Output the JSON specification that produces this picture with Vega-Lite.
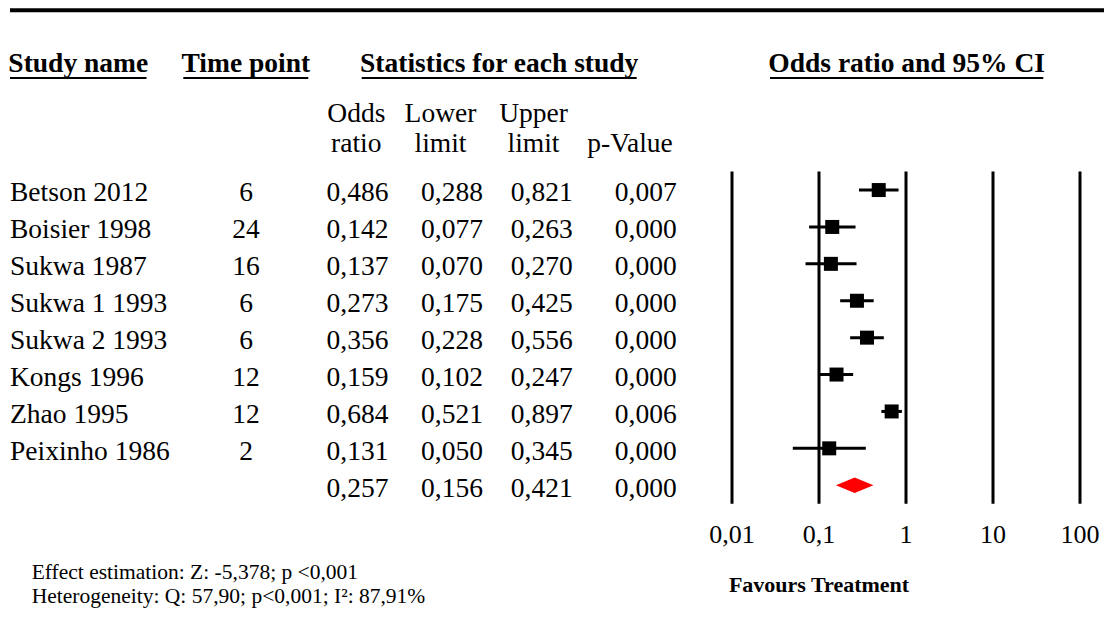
{
  "$schema": "https://vega.github.io/schema/vega-lite/v6.json",
  "width": 1104,
  "height": 631,
  "autosize": {"type": "fit", "contains": "padding"},
  "padding": 0,
  "background": "white",
  "config": {
    "view": {"stroke": null},
    "font": "Liberation Serif",
    "text": {"font": "Liberation Serif", "fontSize": 27.5, "color": "black", "baseline": "alphabetic"},
    "locale": {"number": {"decimal": ",", "thousands": ".", "grouping": [3], "currency": ["", " €"]}}
  },
  "datasets": {
    "studies": [
      {"study": "Betson 2012", "kind": "study", "tp": 6, "or": 0.486, "lo": 0.288, "hi": 0.821, "p": 0.007},
      {"study": "Boisier 1998", "kind": "study", "tp": 24, "or": 0.142, "lo": 0.077, "hi": 0.263, "p": 0.000},
      {"study": "Sukwa 1987", "kind": "study", "tp": 16, "or": 0.137, "lo": 0.070, "hi": 0.270, "p": 0.000},
      {"study": "Sukwa 1 1993", "kind": "study", "tp": 6, "or": 0.273, "lo": 0.175, "hi": 0.425, "p": 0.000},
      {"study": "Sukwa 2 1993", "kind": "study", "tp": 6, "or": 0.356, "lo": 0.228, "hi": 0.556, "p": 0.000},
      {"study": "Kongs 1996", "kind": "study", "tp": 12, "or": 0.159, "lo": 0.102, "hi": 0.247, "p": 0.000},
      {"study": "Zhao 1995", "kind": "study", "tp": 12, "or": 0.684, "lo": 0.521, "hi": 0.897, "p": 0.006},
      {"study": "Peixinho 1986", "kind": "study", "tp": 2, "or": 0.131, "lo": 0.050, "hi": 0.345, "p": 0.000},
      {"study": "Summary", "kind": "summary", "tp": null, "or": 0.257, "lo": 0.156, "hi": 0.421, "p": 0.000}
    ],
    "ticks": [{"value": 0.01}, {"value": 0.1}, {"value": 1}, {"value": 10}, {"value": 100}]
  },
  "resolve": {"scale": {"x": "independent", "y": "independent"}},
  "layer": [
    {
      "data": {"values": [{}]},
      "mark": {"type": "rule", "color": "black", "strokeWidth": 4},
      "encoding": {
        "x": {"datum": 0, "type": "quantitative", "scale": {"domain": [0, 1], "range": [10, 1104], "nice": false, "zero": false}, "axis": null},
        "x2": {"datum": 1},
        "y": {"datum": 0, "type": "quantitative", "scale": {"domain": [0, 1], "range": [10.3, 20], "nice": false, "zero": false}, "axis": null}
      }
    },
    {
      "data": {"values": [{}]},
      "encoding": {
        "x": {"datum": 0.5, "type": "quantitative", "scale": {"domain": [0, 1], "range": [10, 146.5], "nice": false, "zero": false}, "axis": null},
        "y": {"datum": 0, "type": "quantitative", "scale": {"domain": [0, 1], "range": [72, 78], "nice": false, "zero": false}, "axis": null}
      },
      "layer": [
        {"mark": {"type": "text", "fontWeight": "bold", "align": "center"}, "encoding": {"text": {"value": "Study name"}}},
        {"mark": {"type": "rule", "color": "black", "strokeWidth": 2}, "encoding": {"x": {"datum": 0, "type": "quantitative"}, "x2": {"datum": 1}, "y": {"datum": 1, "type": "quantitative"}}}
      ]
    },
    {
      "data": {"values": [{}]},
      "encoding": {
        "x": {"datum": 0.5, "type": "quantitative", "scale": {"domain": [0, 1], "range": [183.3, 308.3], "nice": false, "zero": false}, "axis": null},
        "y": {"datum": 0, "type": "quantitative", "scale": {"domain": [0, 1], "range": [72, 78], "nice": false, "zero": false}, "axis": null}
      },
      "layer": [
        {"mark": {"type": "text", "fontWeight": "bold", "align": "center"}, "encoding": {"text": {"value": "Time point"}}},
        {"mark": {"type": "rule", "color": "black", "strokeWidth": 2}, "encoding": {"x": {"datum": 0, "type": "quantitative"}, "x2": {"datum": 1}, "y": {"datum": 1, "type": "quantitative"}}}
      ]
    },
    {
      "data": {"values": [{}]},
      "encoding": {
        "x": {"datum": 0.5, "type": "quantitative", "scale": {"domain": [0, 1], "range": [361.7, 636.7], "nice": false, "zero": false}, "axis": null},
        "y": {"datum": 0, "type": "quantitative", "scale": {"domain": [0, 1], "range": [72, 78], "nice": false, "zero": false}, "axis": null}
      },
      "layer": [
        {"mark": {"type": "text", "fontWeight": "bold", "align": "center"}, "encoding": {"text": {"value": "Statistics for each study"}}},
        {"mark": {"type": "rule", "color": "black", "strokeWidth": 2}, "encoding": {"x": {"datum": 0, "type": "quantitative"}, "x2": {"datum": 1}, "y": {"datum": 1, "type": "quantitative"}}}
      ]
    },
    {
      "data": {"values": [{}]},
      "encoding": {
        "x": {"datum": 0.5, "type": "quantitative", "scale": {"domain": [0, 1], "range": [770, 1043.3], "nice": false, "zero": false}, "axis": null},
        "y": {"datum": 0, "type": "quantitative", "scale": {"domain": [0, 1], "range": [72, 78], "nice": false, "zero": false}, "axis": null}
      },
      "layer": [
        {"mark": {"type": "text", "fontWeight": "bold", "align": "center"}, "encoding": {"text": {"value": "Odds ratio and 95% CI"}}},
        {"mark": {"type": "rule", "color": "black", "strokeWidth": 2}, "encoding": {"x": {"datum": 0, "type": "quantitative"}, "x2": {"datum": 1}, "y": {"datum": 1, "type": "quantitative"}}}
      ]
    },
    {
      "data": {"values": [{}]},
      "mark": {"type": "text", "align": "center", "lineHeight": 30},
      "encoding": {
        "x": {"datum": "Odds ratio", "type": "nominal", "scale": {"type": "point", "domain": ["Odds ratio"], "range": [356.3, 356.3]}, "axis": null},
        "y": {"datum": "line 1", "type": "nominal", "scale": {"type": "point", "domain": ["line 1"], "range": [121.7, 121.7]}, "axis": null},
        "text": {"value": ["Odds", "ratio"]}
      }
    },
    {
      "data": {"values": [{}]},
      "mark": {"type": "text", "align": "center", "lineHeight": 30},
      "encoding": {
        "x": {"datum": "Lower limit", "type": "nominal", "scale": {"type": "point", "domain": ["Lower limit"], "range": [440.5, 440.5]}, "axis": null},
        "y": {"datum": "line 1", "type": "nominal", "scale": {"type": "point", "domain": ["line 1"], "range": [121.7, 121.7]}, "axis": null},
        "text": {"value": ["Lower", "limit"]}
      }
    },
    {
      "data": {"values": [{}]},
      "mark": {"type": "text", "align": "center", "lineHeight": 30},
      "encoding": {
        "x": {"datum": "Upper limit", "type": "nominal", "scale": {"type": "point", "domain": ["Upper limit"], "range": [533.5, 533.5]}, "axis": null},
        "y": {"datum": "line 1", "type": "nominal", "scale": {"type": "point", "domain": ["line 1"], "range": [121.7, 121.7]}, "axis": null},
        "text": {"value": ["Upper", "limit"]}
      }
    },
    {
      "data": {"values": [{}]},
      "mark": {"type": "text", "align": "center"},
      "encoding": {
        "x": {"datum": "p-Value", "type": "nominal", "scale": {"type": "point", "domain": ["p-Value"], "range": [630, 630]}, "axis": null},
        "y": {"datum": "line 2", "type": "nominal", "scale": {"type": "point", "domain": ["line 2"], "range": [151.7, 151.7]}, "axis": null},
        "text": {"value": "p-Value"}
      }
    },
    {
      "data": {"name": "studies"},
      "resolve": {"scale": {"x": "independent"}},
      "encoding": {
        "y": {"field": "study", "type": "nominal", "bandPosition": 0.81, "scale": {"type": "band", "domain": ["Betson 2012", "Boisier 1998", "Sukwa 1987", "Sukwa 1 1993", "Sukwa 2 1993", "Kongs 1996", "Zhao 1995", "Peixinho 1986", "Summary"], "range": [171.6, 503.7], "paddingInner": 0, "paddingOuter": 0}, "axis": null}
      },
      "layer": [
        {
          "transform": [{"filter": "datum.kind === 'study'"}],
          "mark": {"type": "text", "align": "left"},
          "encoding": {
            "x": {"datum": "Study name", "type": "nominal", "scale": {"type": "point", "domain": ["Study name"], "range": [10, 10]}, "axis": null},
            "text": {"field": "study", "type": "nominal"}
          }
        },
        {
          "transform": [{"filter": "datum.kind === 'study'"}],
          "mark": {"type": "text", "align": "center"},
          "encoding": {
            "x": {"datum": "Time point", "type": "nominal", "scale": {"type": "point", "domain": ["Time point"], "range": [246, 246]}, "axis": null},
            "text": {"field": "tp", "type": "quantitative", "format": "d"}
          }
        },
        {
          "mark": {"type": "text", "align": "center"},
          "encoding": {
            "x": {"datum": "Odds ratio", "type": "nominal", "scale": {"type": "point", "domain": ["Odds ratio"], "range": [357.5, 357.5]}, "axis": null},
            "text": {"field": "or", "type": "quantitative", "format": ".3f"}
          }
        },
        {
          "mark": {"type": "text", "align": "center"},
          "encoding": {
            "x": {"datum": "Lower limit", "type": "nominal", "scale": {"type": "point", "domain": ["Lower limit"], "range": [452, 452]}, "axis": null},
            "text": {"field": "lo", "type": "quantitative", "format": ".3f"}
          }
        },
        {
          "mark": {"type": "text", "align": "center"},
          "encoding": {
            "x": {"datum": "Upper limit", "type": "nominal", "scale": {"type": "point", "domain": ["Upper limit"], "range": [541.8, 541.8]}, "axis": null},
            "text": {"field": "hi", "type": "quantitative", "format": ".3f"}
          }
        },
        {
          "mark": {"type": "text", "align": "center"},
          "encoding": {
            "x": {"datum": "p-Value", "type": "nominal", "scale": {"type": "point", "domain": ["p-Value"], "range": [645.8, 645.8]}, "axis": null},
            "text": {"field": "p", "type": "quantitative", "format": ".3f"}
          }
        }
      ]
    },
    {
      "resolve": {"scale": {"y": "independent"}},
      "layer": [
        {
          "layer": [
            {
              "data": {"name": "ticks"},
              "mark": {"type": "rule", "color": "black", "strokeWidth": 3},
              "encoding": {
                "x": {"field": "value", "type": "quantitative", "scale": {"type": "log", "domain": [0.01, 100], "range": [732, 1080], "nice": false}, "axis": null},
                "y": {"datum": "Betson 2012", "type": "nominal", "bandPosition": 0, "scale": {"type": "band", "domain": ["Betson 2012", "Boisier 1998", "Sukwa 1987", "Sukwa 1 1993", "Sukwa 2 1993", "Kongs 1996", "Zhao 1995", "Peixinho 1986", "Summary"], "range": [171.6, 503.7], "paddingInner": 0, "paddingOuter": 0}, "axis": null},
                "y2": {"datum": "Summary", "bandPosition": 1}
              }
            },
            {
              "data": {"name": "studies"},
              "transform": [{"filter": "datum.kind === 'study'"}],
              "mark": {"type": "rule", "color": "black", "strokeWidth": 3},
              "encoding": {
                "x": {"field": "lo", "type": "quantitative"},
                "x2": {"field": "hi"},
                "y": {"field": "study", "type": "nominal"}
              }
            },
            {
              "data": {"name": "studies"},
              "transform": [{"filter": "datum.kind === 'study'"}],
              "mark": {"type": "point", "shape": "square", "filled": true, "size": 196, "color": "black", "opacity": 1, "strokeWidth": 0},
              "encoding": {
                "x": {"field": "or", "type": "quantitative"},
                "y": {"field": "study", "type": "nominal"}
              }
            },
            {
              "data": {"name": "studies"},
              "transform": [{"filter": "datum.kind === 'summary'"}],
              "mark": {"type": "point", "shape": "M-1,0L0,-0.42L1,0L0,0.42Z", "filled": true, "size": 1406, "color": "#ff0000", "opacity": 1, "strokeWidth": 0},
              "encoding": {
                "x": {"field": "or", "type": "quantitative"},
                "y": {"field": "study", "type": "nominal"}
              }
            }
          ]
        },
        {
          "data": {"name": "ticks"},
          "mark": {"type": "text", "align": "center", "fontSize": 26},
          "encoding": {
            "x": {"field": "value", "type": "quantitative"},
            "y": {"datum": "tick labels", "type": "nominal", "scale": {"type": "point", "domain": ["tick labels"], "range": [542.7, 542.7]}, "axis": null},
            "text": {"field": "value", "type": "quantitative", "format": "~g"}
          }
        },
        {
          "data": {"values": [{}]},
          "mark": {"type": "text", "align": "center", "fontSize": 22, "fontWeight": "bold"},
          "encoding": {
            "x": {"datum": 0.1, "type": "quantitative"},
            "y": {"datum": "axis title", "type": "nominal", "scale": {"type": "point", "domain": ["axis title"], "range": [592.3, 592.3]}, "axis": null},
            "text": {"value": "Favours Treatment"}
          }
        }
      ]
    },
    {
      "data": {"values": [{}]},
      "mark": {"type": "text", "align": "left", "fontSize": 21.5, "lineHeight": 24.5},
      "encoding": {
        "x": {"datum": "notes", "type": "nominal", "scale": {"type": "point", "domain": ["notes"], "range": [31.7, 31.7]}, "axis": null},
        "y": {"datum": "notes", "type": "nominal", "scale": {"type": "point", "domain": ["notes"], "range": [578.5, 578.5]}, "axis": null},
        "text": {"value": ["Effect estimation: Z: -5,378; p  <0,001", "Heterogeneity: Q: 57,90; p<0,001; I²: 87,91%"]}
      }
    }
  ]
}
